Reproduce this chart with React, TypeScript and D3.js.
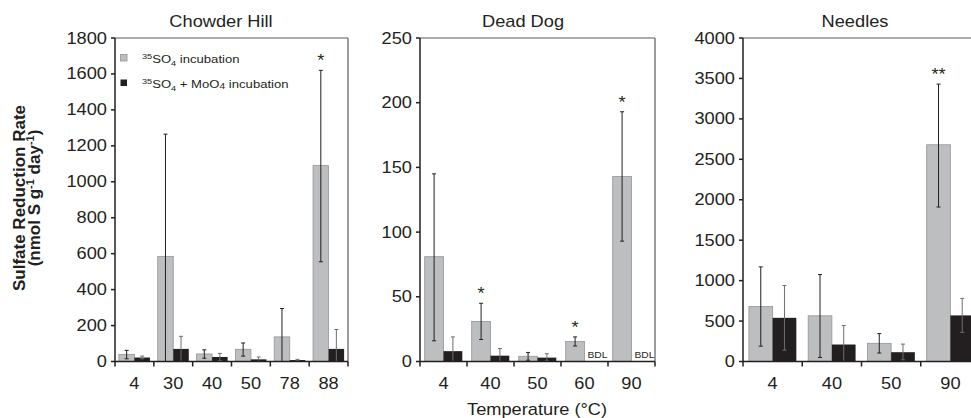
import * as d3 from "d3";

// Chowder Hill
const chowderTemps = ["4", "30", "40", "50", "78", "88"];
const chowderSO4 = [40, 585, 42, 68, 137, 1090];
const chowderSO4Lo = [15, 0, 18, 30, 0, 555];
const chowderSO4Hi = [62, 1265, 65, 103, 295, 1620];
const chowderMoO4 = [22, 70, 25, 12, 8, 70];
const chowderMoO4Lo = [15, 0, 5, 0, 4, 0];
const chowderMoO4Hi = [30, 140, 45, 25, 12, 178];
const chowderSig = ["", "", "", "", "", "*"];

// Dead Dog (null = below detection limit)
const deadDogTemps = ["4", "40", "50", "60", "90"];
const deadDogSO4 = [81, 31, 4, 15.5, 143];
const deadDogSO4Lo = [16, 17, 1, 12, 93];
const deadDogSO4Hi = [145, 45, 7, 19, 193];
const deadDogMoO4: (number | null)[] = [8, 4.5, 3, null, null];
const deadDogMoO4Lo = [0, 0, 0.5, 0, 0];
const deadDogMoO4Hi = [19, 10, 6, 0, 0];
const deadDogSig = ["", "*", "", "*", "*"];

// Needles
const needlesTemps = ["4", "40", "50", "90"];
const needlesSO4 = [680, 565, 225, 2680];
const needlesSO4Lo = [190, 50, 105, 1910];
const needlesSO4Hi = [1170, 1075, 345, 3430];
const needlesMoO4 = [540, 210, 115, 570];
const needlesMoO4Lo = [140, 0, 20, 360];
const needlesMoO4Hi = [940, 445, 215, 780];
const needlesSig = ["", "", "", "**"];

const FONT = "Arial, 'Liberation Sans', Helvetica, sans-serif";
const SX = 1.14; // the original figure is stretched horizontally
const TOP = 38;
const BASE = 361.5;
const GRAY = "#bcbec0";
const GRAY_EDGE = "#939598";
const BLACK = "#231f20";

const panels = [
  {
    title: "Chowder Hill", titleX: 221, left: 115, right: 348, yMax: 1800, yStep: 200,
    temps: chowderTemps, so4: chowderSO4, so4Lo: chowderSO4Lo, so4Hi: chowderSO4Hi,
    moo4: chowderMoO4, mooLo: chowderMoO4Lo, mooHi: chowderMoO4Hi, sig: chowderSig,
  },
  {
    title: "Dead Dog", titleX: 523, left: 420, right: 655, yMax: 250, yStep: 50,
    temps: deadDogTemps, so4: deadDogSO4, so4Lo: deadDogSO4Lo, so4Hi: deadDogSO4Hi,
    moo4: deadDogMoO4, mooLo: deadDogMoO4Lo, mooHi: deadDogMoO4Hi, sig: deadDogSig,
  },
  {
    title: "Needles", titleX: 855, left: 743, right: 980, yMax: 4000, yStep: 500,
    temps: needlesTemps, so4: needlesSO4, so4Lo: needlesSO4Lo, so4Hi: needlesSO4Hi,
    moo4: needlesMoO4, mooLo: needlesMoO4Lo, mooHi: needlesMoO4Hi, sig: needlesSig,
  },
];

type PanelDef = (typeof panels)[number];

// text stretched horizontally around its anchor point
const SText = ({ x, y, children, ...rest }: any) => (
  <text transform={`translate(${x},${y}) scale(${SX},1)`} fontFamily={FONT} fill={BLACK} {...rest}>
    {children}
  </text>
);

const ErrBar = ({ cx, y0, y1, color }: { cx: number; y0: number; y1: number; color: string }) => (
  <g stroke={color} strokeWidth={1}>
    <line x1={cx} x2={cx} y1={y0} y2={y1} />
    <line x1={cx - 2} x2={cx + 2} y1={y0} y2={y0} />
    <line x1={cx - 2} x2={cx + 2} y1={y1} y2={y1} />
  </g>
);

function BarPanel({ p }: { p: PanelDef }) {
  const x = d3.scaleBand<string>().domain(p.temps).range([p.left, p.right]);
  const y = d3.scaleLinear().domain([0, p.yMax]).range([BASE, TOP]);
  const ticks = d3.range(0, p.yMax + 1, p.yStep);
  const bw = x.bandwidth();
  const pad = bw * 0.1;
  const w = bw * 0.4;
  const edges = [...p.temps.map((t) => x(t)!), p.right];

  return (
    <g>
      <SText x={p.titleX} y={27} fontSize={16} textAnchor="middle">{p.title}</SText>

      {/* frame */}
      <line x1={p.left} x2={p.right} y1={TOP} y2={TOP} stroke="#58595b" strokeWidth={1.2} />
      <line x1={p.right} x2={p.right} y1={TOP} y2={BASE} stroke="#58595b" strokeWidth={1.2} />

      {/* bars */}
      {p.temps.map((t, i) => {
        const bx = x(t)! + pad;
        const m = p.moo4[i];
        return (
          <g key={t}>
            <rect x={bx} y={y(p.so4[i])} width={w} height={BASE - y(p.so4[i])}
              fill={GRAY} stroke={GRAY_EDGE} strokeWidth={0.8} />
            {m != null ? (
              <rect x={bx + w} y={y(m)} width={w} height={BASE - y(m)} fill={BLACK} />
            ) : (
              <SText x={bx + w + 3} y={BASE - 4} fontSize={9}>BDL</SText>
            )}
          </g>
        );
      })}

      {/* error bars */}
      {p.temps.map((t, i) => {
        const bx = x(t)! + pad;
        const m = p.moo4[i];
        return (
          <g key={"e" + t}>
            <ErrBar cx={bx + w / 2} y0={y(p.so4Lo[i])} y1={y(p.so4Hi[i])} color="#231f20" />
            {m != null && (
              <ErrBar cx={bx + w * 1.5} y0={y(p.mooLo[i])} y1={y(p.mooHi[i])} color="#6d6e71" />
            )}
            {p.sig[i] && (
              <SText x={bx + w / 2} y={y(p.so4Hi[i]) - 4} fontSize={16} textAnchor="middle">
                {p.sig[i]}
              </SText>
            )}
          </g>
        );
      })}

      {/* axes */}
      <line x1={p.left} x2={p.left} y1={TOP} y2={BASE} stroke={BLACK} strokeWidth={1.5} />
      <line x1={p.left} x2={p.right} y1={BASE} y2={BASE} stroke={BLACK} strokeWidth={1.5} />
      {ticks.map((v) => (
        <g key={"y" + v}>
          <line x1={p.left - 4} x2={p.left} y1={y(v)} y2={y(v)} stroke={BLACK} strokeWidth={1.5} />
          <SText x={p.left - 8} y={y(v) + 5.5} fontSize={16} textAnchor="end">{v}</SText>
        </g>
      ))}
      {edges.map((ex, i) => (
        <line key={"xt" + i} x1={ex} x2={ex} y1={BASE} y2={BASE + 5} stroke={BLACK} strokeWidth={1.5} />
      ))}
      {p.temps.map((t) => (
        <SText key={"xl" + t} x={x(t)! + bw / 2} y={389} fontSize={16} textAnchor="middle">{t}</SText>
      ))}
    </g>
  );
}

export default function App() {
  return (
    <svg width={971} height={418} style={{ position: "absolute", left: 0, top: 0, background: "#fff" }}>
      {panels.map((p) => (
        <BarPanel key={p.title} p={p} />
      ))}

      {/* legend */}
      <rect x={120.5} y={54.5} width={6.5} height={6.5} fill={GRAY} stroke={GRAY_EDGE} strokeWidth={0.8} />
      <SText x={142} y={62.5} fontSize={11.5}>
        <tspan fontSize={8} dy={-4}>35</tspan>
        <tspan dy={4}>SO</tspan>
        <tspan fontSize={8} dy={3}>4</tspan>
        <tspan dy={-3}> incubation</tspan>
      </SText>
      <rect x={120.5} y={79.5} width={6.5} height={6.5} fill={BLACK} />
      <SText x={142} y={87.5} fontSize={11.5}>
        <tspan fontSize={8} dy={-4}>35</tspan>
        <tspan dy={4}>SO</tspan>
        <tspan fontSize={8} dy={3}>4</tspan>
        <tspan dy={-3}>{" +  MoO"}</tspan>
        <tspan fontSize={9} dy={1.5}>4</tspan>
        <tspan dy={-1.5}> incubation</tspan>
      </SText>

      {/* y axis title */}
      <text transform="translate(25,198) rotate(-90)" textAnchor="middle" fontFamily={FONT}
        fontWeight="bold" fontSize={17} fill={BLACK}>
        Sulfate Reduction Rate
      </text>
      <text transform="translate(40,198) rotate(-90)" textAnchor="middle" fontFamily={FONT}
        fontWeight="bold" fontSize={17} fill={BLACK}>
        (nmol S g<tspan fontSize={11} dy={-6}>-1</tspan>
        <tspan dy={6}> day</tspan>
        <tspan fontSize={11} dy={-6}>-1</tspan>
        <tspan dy={6}>)</tspan>
      </text>

      {/* x axis title */}
      <SText x={537} y={415} fontSize={16} textAnchor="middle">Temperature (°C)</SText>
    </svg>
  );
}
